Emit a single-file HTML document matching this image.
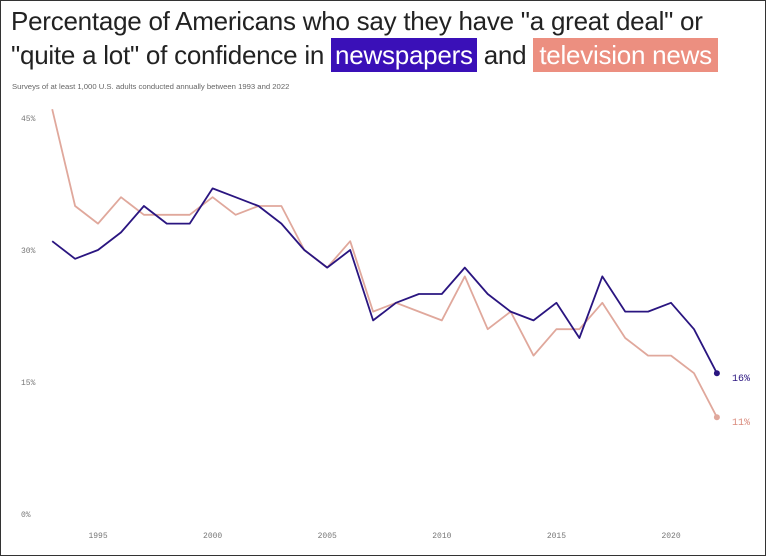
<!DOCTYPE html>
<html><head><meta charset="utf-8"><style>
body{margin:0;background:#fff;}
#w{position:relative;width:764px;height:554px;border:1px solid #333;background:#fff;overflow:hidden;font-family:"Liberation Sans",sans-serif;}
.t{position:absolute;left:10px;font-size:26px;color:#222;white-space:nowrap;letter-spacing:-0.25px}
.hn{background:#3a10b8;color:#fff;padding:2px 4px}
.ht{background:#ec8f80;color:#fff;padding:2px 6px}
.s{position:absolute;left:11px;top:81px;font-size:7.7px;color:#666}
</style></head><body><div id="w">
<div class="t" style="top:5px">Percentage of Americans who say they have "a great deal" or</div>
<div class="t" style="top:39px">"quite a lot" of confidence in <span class="hn">newspapers</span> and <span class="ht">television news</span></div>
<div class="s">Surveys of at least 1,000 U.S. adults conducted annually between 1993 and 2022</div>
<svg id="c" width="766" height="556" style="position:absolute;left:0;top:0" font-family="Liberation Mono,monospace" font-size="8" fill="#777"></svg>
</div>
<script>
var n=[31,29,30,32,35,33,33,37,36,35,33,30,28,30,22,24,25,25,28,25,23,22,24,20,27,23,23,24,21,16];
var t=[46,35,33,36,34,34,34,36,34,35,35,30,28,31,23,24,23,22,27,21,23,18,21,21,24,20,18,18,16,11];
function X(i){return 51.2+i*22.92}function Y(v){return 513-v*8.8}
var s='';
[[45,'45%'],[30,'30%'],[15,'15%'],[0,'0%']].forEach(function(a){s+='<text x="20" y="'+(Y(a[0])+3)+'">'+a[1]+'</text>'});
[1995,2000,2005,2010,2015,2020].forEach(function(y){s+='<text x="'+X(y-1993)+'" y="537" text-anchor="middle">'+y+'</text>'});
function pl(d,c){return '<polyline fill="none" stroke="'+c+'" stroke-width="1.8" stroke-linejoin="round" points="'+d.map(function(v,i){return X(i).toFixed(1)+','+Y(v).toFixed(1)}).join(' ')+'"/>'}
s+=pl(t,'#e0a89c')+pl(n,'#2a1580');
s+='<circle cx="'+X(29)+'" cy="'+Y(16)+'" r="3" fill="#2a1580"/><circle cx="'+X(29)+'" cy="'+Y(11)+'" r="3" fill="#e0a89c"/>';
s+='<text x="731" y="380" font-size="10" fill="#2a1580">16%</text><text x="731" y="424" font-size="10" fill="#d98a7c">11%</text>';
document.getElementById('c').innerHTML=s;
</script>
</body></html>
